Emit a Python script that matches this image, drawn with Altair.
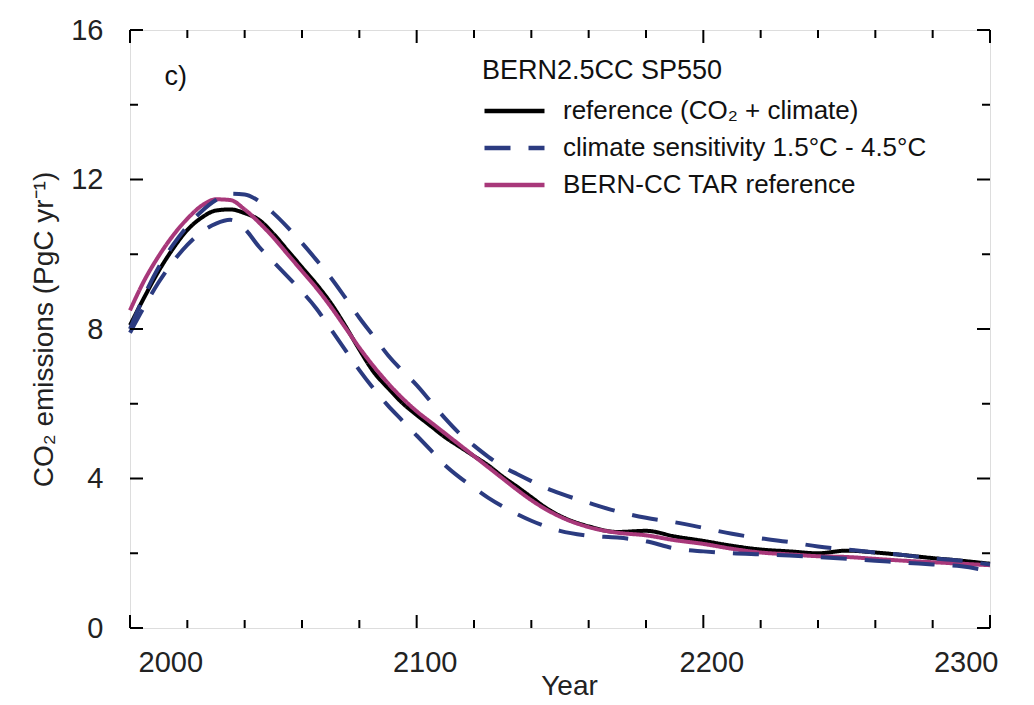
import altair as alt
import pandas as pd

# ---- data -----------------------------------------------------------------
YEARS = [2000, 2005, 2010, 2015, 2020, 2025, 2030, 2035, 2040, 2045, 2050,
         2055, 2060, 2065, 2070, 2075, 2080, 2085, 2090, 2095, 2100, 2105,
         2110, 2115, 2120, 2125, 2130, 2135, 2140, 2145, 2150, 2160, 2170,
         2180, 2190, 2200, 2210, 2220, 2230, 2240, 2250, 2260, 2270, 2280,
         2290, 2300]

REF = [8.1, 8.85, 9.55, 10.15, 10.65, 10.98, 11.17, 11.2, 11.1, 10.92, 10.55,
       10.1, 9.65, 9.2, 8.7, 8.1, 7.45, 6.85, 6.42, 6.02, 5.7, 5.4,
       5.1, 4.85, 4.6, 4.35, 4.05, 3.78, 3.5, 3.22, 3.0, 2.72, 2.57,
       2.6, 2.45, 2.33, 2.2, 2.1, 2.05, 2.0, 2.07, 2.02, 1.95, 1.87,
       1.8, 1.72]

TAR = [8.5, 9.3, 9.95, 10.5, 10.95, 11.3, 11.47, 11.45, 11.2, 10.85, 10.45,
       10.0, 9.55, 9.1, 8.6, 8.05, 7.5, 7.0, 6.55, 6.15, 5.8, 5.5,
       5.2, 4.9, 4.6, 4.3, 4.0, 3.7, 3.42, 3.18, 2.98, 2.7, 2.55,
       2.48, 2.35, 2.25, 2.12, 2.02, 1.97, 1.92, 1.9, 1.85, 1.8, 1.76,
       1.72, 1.68]

SENS_LOW = [8.0, 8.9, 9.65, 10.25, 10.75, 11.15, 11.45, 11.62, 11.6, 11.42, 11.1,
            10.72, 10.3, 9.85, 9.38, 8.85, 8.3, 7.8, 7.3, 6.88, 6.5, 6.05,
            5.6, 5.2, 4.88, 4.58, 4.32, 4.12, 3.93, 3.75, 3.6, 3.35, 3.12,
            2.95, 2.83, 2.68, 2.52, 2.4, 2.3, 2.18, 2.1, 2.02, 1.95, 1.86,
            1.8, 1.7]

SENS_HIGH = [7.9, 8.6, 9.25, 9.8, 10.25, 10.6, 10.82, 10.92, 10.68, 10.2, 9.8,
             9.4, 9.0, 8.55, 8.0, 7.45, 6.9, 6.4, 5.95, 5.55, 5.15, 4.75,
             4.35, 4.03, 3.75, 3.48, 3.25, 3.05, 2.87, 2.72, 2.6, 2.47, 2.42,
             2.32, 2.13, 2.05, 2.0, 1.97, 1.94, 1.9, 1.85, 1.8, 1.75, 1.7,
             1.65, 1.52]

SERIES = ["reference (CO\u2082 + climate)",
          "climate sensitivity 1.5\u00b0C - 4.5\u00b0C",
          "BERN-CC TAR reference"]
COLORS = ["#000000", "#2b3b80", "#a8387a"]
DASHES = [[1, 0], [26, 18], [1, 0]]

X_MAJOR = [2000, 2100, 2200, 2300]
X_MINOR = [2020, 2040, 2060, 2080, 2120, 2140, 2160, 2180, 2220, 2240, 2260, 2280]
Y_MAJOR = [0, 4, 8, 12, 16]
Y_MINOR = [2, 6, 10, 14]

FONT = "Liberation Sans"

# ---- long table -------------------------------------------------------------
rows = []
for run, series, vals in [("ref", SERIES[0], REF),
                          ("tar", SERIES[2], TAR),
                          ("lo", SERIES[1], SENS_LOW),
                          ("hi", SERIES[1], SENS_HIGH)]:
    for yr, v in zip(YEARS, vals):
        rows.append({"year": yr, "value": v, "series": series, "run": run})
df = pd.DataFrame(rows)

W, H = 860, 598

xscale = alt.Scale(domain=[2000, 2300], nice=False, zero=False)
yscale = alt.Scale(domain=[0, 16], nice=False)

legend = alt.Legend(
    title="BERN2.5CC SP550", orient="none", legendX=352, legendY=28,
    titleFont=FONT, titleFontSize=27, titleFontWeight="normal", titleColor="#111",
    titleLimit=700,
    labelFont=FONT, labelFontSize=26, labelColor="#111", labelLimit=700,
    symbolType="stroke", symbolSize=3600, symbolStrokeWidth=4.5,
    clipHeight=28, rowPadding=9, titlePadding=12, labelOffset=16, padding=0,
)

lines = alt.Chart(df).mark_line(strokeWidth=4, interpolate="monotone").encode(
    x=alt.X("year:Q", scale=xscale,
            axis=alt.Axis(title="Year", values=X_MAJOR, format="d", ticks=False,
                          domain=False, grid=False, labelFont=FONT, labelFontSize=29,
                          labelColor="#222", labelPadding=20, labelOffset=8,
                          titleFont=FONT, titleFontSize=28, titleFontWeight="normal",
                          titleColor="#222", titlePadding=-5, titleX=439)),
    y=alt.Y("value:Q", scale=yscale,
            axis=alt.Axis(title="CO\u2082 emissions (PgC yr\u207b\u00b9)", values=Y_MAJOR,
                          ticks=False, domain=False, grid=False, labelFont=FONT,
                          labelFontSize=29, labelColor="#222", labelPadding=27,
                          titleFont=FONT, titleFontSize=28, titleFontWeight="normal",
                          titleColor="#222", titlePadding=12)),
    color=alt.Color("series:N", scale=alt.Scale(domain=SERIES, range=COLORS), legend=legend),
    strokeDash=alt.StrokeDash("series:N", scale=alt.Scale(domain=SERIES, range=DASHES),
                              legend=legend),
    detail="run:N",
)

def xticks(vals, length):
    d = pd.DataFrame({"year": vals})
    base = alt.Chart(d).mark_rule(color="black", strokeWidth=2)
    bottom = base.encode(x=alt.X("year:Q", scale=xscale), y=alt.value(H), y2=alt.value(H - length))
    top = base.encode(x=alt.X("year:Q", scale=xscale), y=alt.value(0), y2=alt.value(length))
    return [bottom, top]

def yticks(vals, length):
    d = pd.DataFrame({"value": vals})
    base = alt.Chart(d).mark_rule(color="black", strokeWidth=2)
    left = base.encode(y=alt.Y("value:Q", scale=yscale), x=alt.value(0), x2=alt.value(length))
    right = base.encode(y=alt.Y("value:Q", scale=yscale), x=alt.value(W), x2=alt.value(W - length))
    return [left, right]

tick_layers = (xticks(X_MAJOR, 13) + xticks(X_MINOR, 8) +
               yticks(Y_MAJOR, 13) + yticks(Y_MINOR, 8))

label_df = pd.DataFrame({"year": [2012], "value": [14.75], "text": ["c)"]})
panel = alt.Chart(label_df).mark_text(align="left", baseline="middle", font=FONT,
                                      fontSize=27, color="#111").encode(
    x=alt.X("year:Q", scale=xscale), y=alt.Y("value:Q", scale=yscale), text="text:N")

chart = alt.layer(lines, *tick_layers, panel).properties(
    width=W, height=H,
    autosize=alt.AutoSizeParams(type="none"),
    padding={"left": 122, "top": 22, "right": 30, "bottom": 74},
).configure_view(stroke="black", strokeWidth=2.5).configure(background="white")

chart.save("out.html", embed_options={"renderer": "svg", "actions": False})
